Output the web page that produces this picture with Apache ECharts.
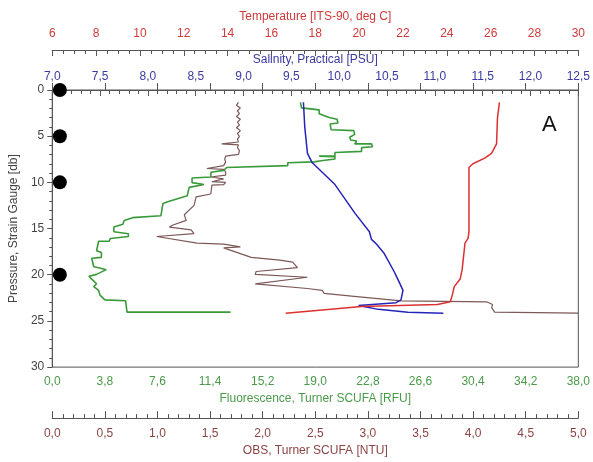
<!DOCTYPE html>
<html>
<head>
<meta charset="utf-8">
<script src="https://cdn.jsdelivr.net/npm/echarts@6/dist/echarts.min.js"></script>
<style>html,body{margin:0;padding:0;background:#fff}#c{width:593px;height:462px}</style>
</head>
<body>
<div id="c"></div>
<script>
// Temperature [deg C] vs pressure [db]
const tempValues = [26.40,26.31,26.27,26.27,26.04,25.73,25.19,25.01,25.01,24.97,24.83,24.70,24.61,24.34,24.25,24.16,23.57,20.11,16.65];
const tempPressure = [1.33,3.07,3.2,5.83,6.86,7.37,7.98,8.39,15.35,16.07,16.58,19.45,20.47,21.29,22.21,22.93,23.23,23.44,24.16];

// Salinity [PSU] vs pressure
const salValues = [9.626,9.640,9.668,9.719,9.956,10.162,10.316,10.337,10.389,10.471,10.574,10.626,10.667,10.646,10.595,10.203,10.183,10.409,10.718,11.089];
const salPressure = [1.33,4.0,6.86,7.88,10.24,13.3,15.35,16.17,16.68,17.71,19.65,20.78,21.70,22.72,23.03,23.34,23.54,23.75,24.05,24.16];

// Fluorescence [RFU] vs pressure
const fluoValues = [17.93,18.00,19.28,19.28,20.00,20.57,20.64,20.07,20.14,21.78,21.85,21.49,21.56,21.99,21.85,23.06,23.13,22.34,22.34,20.42,20.42,19.28,20.42,20.42,19.28,18.93,17.01,17.01,12.60,12.38,11.46,11.46,10.10,10.10,10.96,10.96,9.89,9.75,8.40,8.00,7.85,5.80,5.20,5.10,4.45,4.45,5.50,5.50,4.20,4.10,3.35,3.20,3.55,3.55,2.85,3.00,3.35,3.90,3.20,2.65,2.85,3.20,3.00,3.35,3.45,3.80,5.30,5.40,12.88];
const fluoPressure = [1.33,1.94,2.15,2.56,2.97,3.17,3.58,3.68,4.30,4.40,4.81,5.12,5.42,5.53,5.83,5.83,6.14,6.24,6.65,6.76,7.16,7.16,7.22,7.47,7.68,7.78,7.88,8.19,8.39,8.70,8.90,9.42,9.52,10.03,10.24,10.44,10.54,11.46,12.08,12.28,13.61,13.82,14.12,14.53,14.84,15.35,15.56,15.86,16.07,16.38,16.38,17.40,17.60,18.12,18.22,19.14,19.24,19.45,19.96,20.16,20.47,20.98,21.29,21.70,22.21,22.72,22.82,24.05,24.05];

// OBS [NTU] vs pressure
const obsValues = [1.770,1.751,1.788,1.760,1.779,1.751,1.788,1.760,1.779,1.751,1.788,1.760,1.779,1.760,1.770,1.610,1.770,1.760,1.779,1.770,1.648,1.639,1.648,1.629,1.629,1.470,1.629,1.648,1.648,1.507,1.629,1.648,1.517,1.648,1.629,1.517,1.507,1.367,1.348,1.255,1.273,1.142,1.114,1.320,1.348,0.993,0.993,1.376,1.629,1.788,1.629,1.648,1.891,2.163,2.285,2.331,1.938,1.929,2.425,2.444,1.929,1.938,2.425,2.566,2.584,2.846,3.315,4.129,4.185,4.176,4.204,5.0];
const obsPressure = [1.33,1.64,1.94,2.25,2.56,2.87,3.17,3.48,3.79,4.09,4.40,4.71,5.02,5.32,5.63,5.83,5.94,6.24,6.55,6.96,7.16,7.47,7.78,8.19,8.39,8.50,8.60,8.90,9.21,9.42,9.62,9.80,9.93,10.0,10.24,10.30,11.26,11.57,12.49,13.51,14.12,14.64,14.84,15.15,15.56,15.86,16.07,16.58,16.68,16.99,17.09,17.20,18.12,18.42,18.63,19.24,19.65,19.96,20.27,20.47,20.98,21.19,21.49,21.70,22.01,22.31,22.82,22.93,23.23,23.54,24.05,24.16];

// Sample depths (black dots)
const sampleDepths = [0, 5, 10, 20];
const sampleX = 0.55;

// Axis ranges
const pressureRange = [0, 30];
const fluoRange = [0, 38];
const obsRange = [0, 5];
const salRange = [7, 12.5];
const tempRange = [6, 30];

function pairs(xs, ys){ return xs.map((v,i)=>[v, ys[i]]); }
const comma1 = v => v.toFixed(1).replace('.', ',');
const FONT = 'Liberation Sans';
const axisGrey = '#555';

const chart = echarts.init(document.getElementById('c'), null, {renderer:'canvas'});
chart.setOption({
  animation: false,
  backgroundColor: '#fff',
  title: {text: 'A', left: 537, top: 109, textStyle: {fontFamily: FONT, fontSize: 22, fontWeight: 'normal', color: '#111'}},
  grid: {left: 46, right: 13, top: 90, bottom: 79, show: true, borderColor: axisGrey, borderWidth: 1, backgroundColor: 'transparent'},
  xAxis: [
    {type:'value', position:'bottom', offset:0, min:fluoRange[0], max:fluoRange[1], interval:3.8,
     name:'Fluorescence, Turner SCUFA [RFU]', nameLocation:'middle', nameGap:22,
     nameTextStyle:{color:'#4a9a4a', fontFamily:FONT, fontSize:12},
     axisLine:{lineStyle:{color:axisGrey}}, axisTick:{inside:true, length:7, lineStyle:{color:axisGrey}},
     axisLabel:{color:'#4a9a4a', fontFamily:FONT, fontSize:12, margin:9, formatter:comma1, showMinLabel:true, showMaxLabel:true},
     splitLine:{show:false}},
    {type:'value', position:'bottom', offset:51, min:obsRange[0], max:obsRange[1], interval:0.5,
     name:'OBS, Turner SCUFA [NTU]', nameLocation:'middle', nameGap:18,
     nameTextStyle:{color:'#8b4545', fontFamily:FONT, fontSize:12},
     axisLine:{lineStyle:{color:axisGrey}}, axisTick:{inside:true, length:7, lineStyle:{color:axisGrey}},
     minorTick:{show:true, splitNumber:5, length:4, lineStyle:{color:axisGrey}},
     axisLabel:{color:'#8b4545', fontFamily:FONT, fontSize:12, margin:10, formatter:comma1, showMinLabel:true, showMaxLabel:true},
     splitLine:{show:false}},
    {type:'value', position:'top', offset:0, min:salRange[0], max:salRange[1], interval:0.5,
     name:'Salinity, Practical [PSU]', nameLocation:'middle', nameGap:21,
     nameTextStyle:{color:'#3a3aa0', fontFamily:FONT, fontSize:12},
     axisLine:{lineStyle:{color:axisGrey}}, axisTick:{inside:true, length:6, lineStyle:{color:axisGrey}},
     minorTick:{show:true, splitNumber:5, length:4, lineStyle:{color:axisGrey}},
     axisLabel:{color:'#3a3aa0', fontFamily:FONT, fontSize:12, margin:7, formatter:comma1, showMinLabel:true, showMaxLabel:true},
     splitLine:{show:false}},
    {type:'value', position:'top', offset:40, min:tempRange[0], max:tempRange[1], interval:2,
     name:'Temperature [ITS-90, deg C]', nameLocation:'middle', nameGap:26,
     nameTextStyle:{color:'#d03a3a', fontFamily:FONT, fontSize:12},
     axisLine:{lineStyle:{color:axisGrey}}, axisTick:{inside:true, length:6, lineStyle:{color:axisGrey}},
     minorTick:{show:true, splitNumber:4, length:4, lineStyle:{color:axisGrey}},
     axisLabel:{color:'#d03a3a', fontFamily:FONT, fontSize:12, margin:10, showMinLabel:true, showMaxLabel:true},
     splitLine:{show:false}}
  ],
  yAxis: [{
    type:'value', inverse:true, min:pressureRange[0], max:pressureRange[1], interval:5,
    name:'Pressure, Strain Gauge [db]', nameLocation:'middle', nameGap:24,
    nameTextStyle:{color:'#444', fontFamily:FONT, fontSize:12},
    axisLine:{show:true, lineStyle:{color:axisGrey}}, axisTick:{show:true, inside:false, length:5, lineStyle:{color:axisGrey}},
    minorTick:{show:true, splitNumber:5, length:3, lineStyle:{color:axisGrey}},
    axisLabel:{color:'#444', fontFamily:FONT, fontSize:12, margin:8},
    splitLine:{show:false}
  }],
  series: [
    {type:'line', name:'OBS', xAxisIndex:1, data:pairs(obsValues, obsPressure), showSymbol:false, symbol:'none',
     lineStyle:{color:'#7d5858', width:1.2}, z:2},
    {type:'line', name:'Fluorescence', xAxisIndex:0, data:pairs(fluoValues, fluoPressure), showSymbol:false, symbol:'none',
     lineStyle:{color:'#3a9a3a', width:1.6}, z:3},
    {type:'line', name:'Salinity', xAxisIndex:2, data:pairs(salValues, salPressure), showSymbol:false, symbol:'none',
     lineStyle:{color:'#2424b8', width:1.5}, z:4},
    {type:'line', name:'Temperature', xAxisIndex:3, data:pairs(tempValues, tempPressure), showSymbol:false, symbol:'none',
     lineStyle:{color:'#dd3030', width:1.5}, z:5},
    {type:'scatter', xAxisIndex:0, data:sampleDepths.map(p=>[sampleX, p]), symbol:'circle', symbolSize:14, clip:false,
     itemStyle:{color:'#000', opacity:1}, z:6}
  ]
});
</script>
</body>
</html>
